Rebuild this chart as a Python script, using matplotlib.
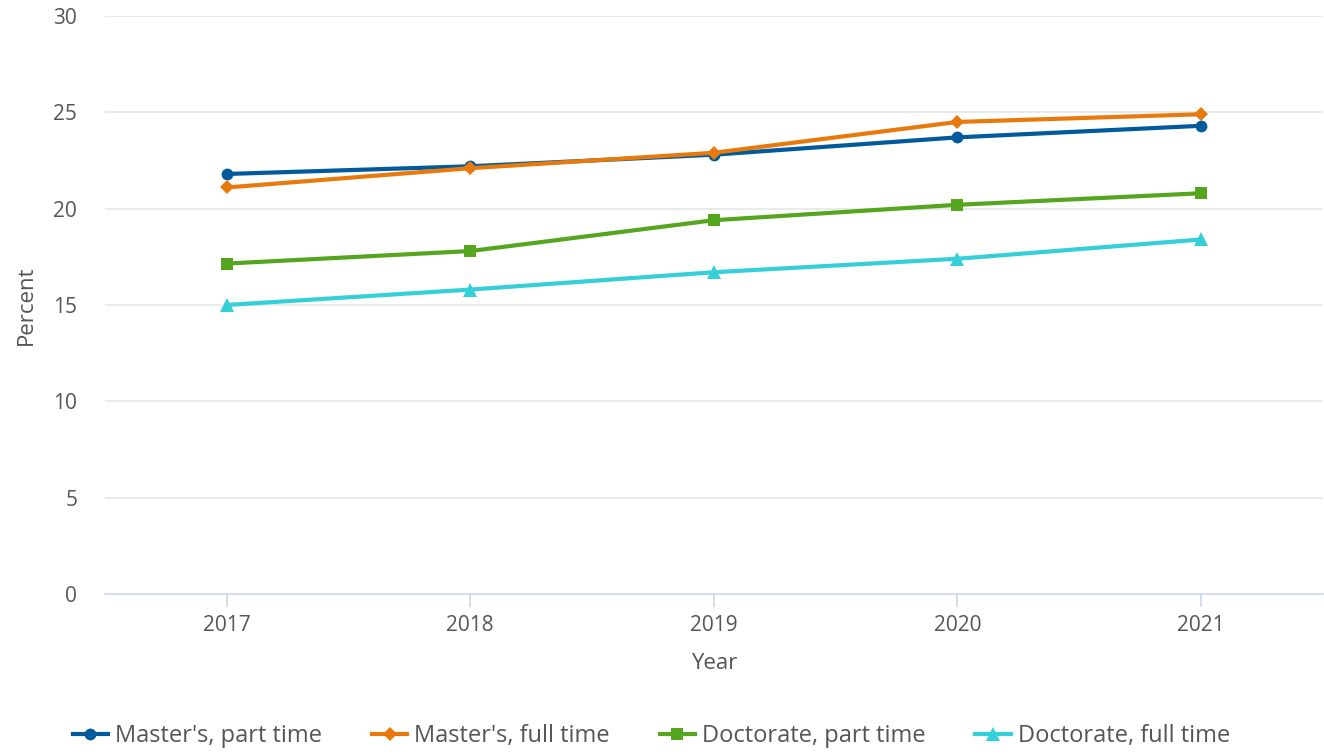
import matplotlib
matplotlib.use('Agg')
import matplotlib.pyplot as plt
from matplotlib.lines import Line2D

years = [2017, 2018, 2019, 2020, 2021]
masters_part = [21.8, 22.2, 22.8, 23.7, 24.3]
masters_full = [21.1, 22.1, 22.9, 24.5, 24.9]
doctorate_part = [17.15, 17.8, 19.4, 20.2, 20.8]
doctorate_full = [15.0, 15.8, 16.7, 17.4, 18.4]

series = [
    ("Master's, part time", masters_part, '#005a9c', 'o', 8.5),
    ("Master's, full time", masters_full, '#e87a0d', 'D', 7),
    ("Doctorate, part time", doctorate_part, '#56a51f', 's', 8.5),
    ("Doctorate, full time", doctorate_full, '#34cfd9', '^', 10),
]

plt.rcParams['font.family'] = ['Open Sans', 'DejaVu Sans']
text_color = '#555555'


def main() -> int:
    fig = plt.figure(figsize=(13.24, 7.54), dpi=100)
    ax = fig.add_axes([0.0793, 0.2122, 0.9197, 0.7666])

    handles = []
    for label, values, color, marker, ms in series:
        ax.plot(years, values, color=color, linewidth=3, marker=marker,
                markersize=ms, markeredgewidth=0, zorder=3)
        handles.append(Line2D([0], [0], color=color, linewidth=3, marker=marker,
                              markersize=ms, markeredgewidth=0, label=label))

    ax.set_xlim(2016.5, 2021.5)
    ax.set_ylim(0, 30)
    ax.set_xticks(years)
    ax.set_yticks(range(0, 31, 5))
    ax.grid(axis='y', color='#e6e6e6', linewidth=1.2)
    ax.set_axisbelow(True)
    for side in ['top', 'right', 'left']:
        ax.spines[side].set_visible(False)
    ax.spines['bottom'].set_color('#ccd6eb')
    ax.spines['bottom'].set_linewidth(1.2)
    ax.tick_params(axis='x', colors='#ccd6eb', length=9, width=1.2,
                   labelcolor=text_color, labelsize=15, pad=6)
    ax.tick_params(axis='y', length=0, labelcolor=text_color, labelsize=15, pad=20)

    ax.set_xlabel('Year', fontsize=16, color=text_color, labelpad=12)
    ax.set_ylabel('Percent', fontsize=16, color=text_color, labelpad=12)

    fig.legend(handles=handles, loc='lower center', bbox_to_anchor=(0.492, -0.02),
               ncol=4, frameon=False, fontsize=17, labelcolor=text_color,
               handlelength=1.5, columnspacing=2.1, handletextpad=0.3)

    fig.savefig('out.png', dpi=100)
    return 0


if __name__ == '__main__':
    raise SystemExit(main())
